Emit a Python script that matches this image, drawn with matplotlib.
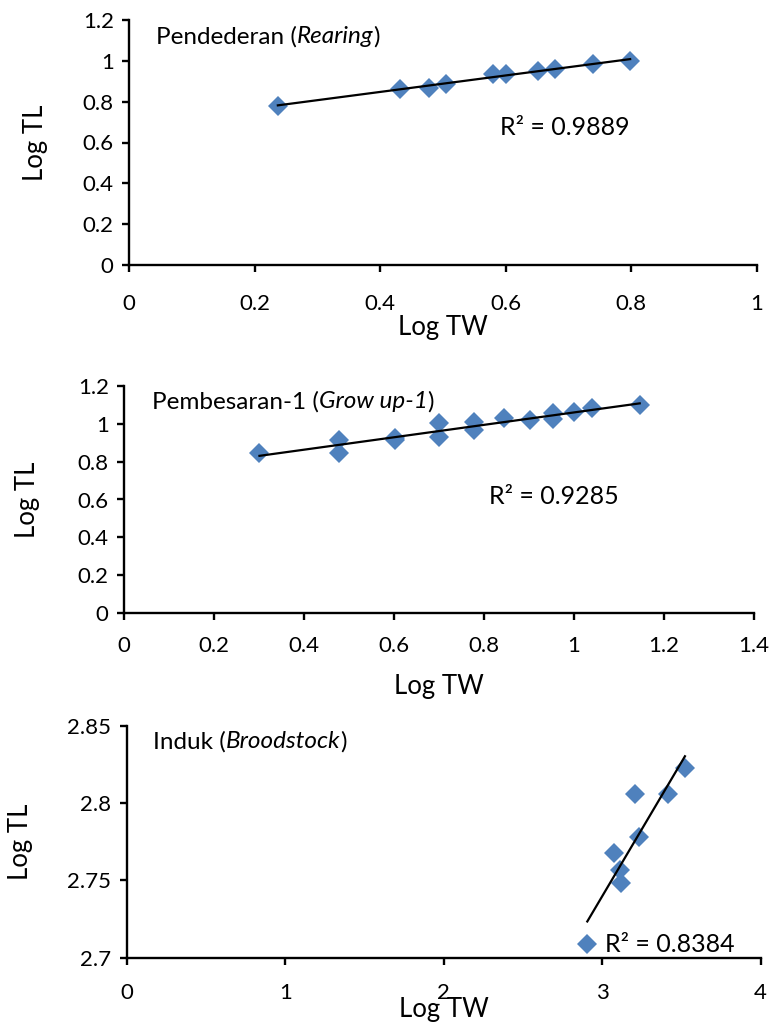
import numpy as np
import matplotlib
matplotlib.use("Agg")
import matplotlib.pyplot as plt
from matplotlib.ticker import FuncFormatter

plt.rcParams['font.family'] = ['Lato', 'DejaVu Sans']

# ---- data ----
rear_x = [0.237, 0.431, 0.477, 0.504, 0.579, 0.600, 0.652, 0.679, 0.739, 0.798]
rear_y = [0.781, 0.861, 0.869, 0.886, 0.935, 0.935, 0.948, 0.961, 0.985, 1.001]
rear_r2 = "R² = 0.9889"

grow_x = [0.301, 0.477, 0.477, 0.602, 0.602, 0.699, 0.699, 0.778, 0.778,
          0.845, 0.903, 0.954, 0.954, 1.000, 1.041, 1.146]
grow_y = [0.843, 0.914, 0.845, 0.914, 0.924, 1.002, 0.932, 1.010, 0.966,
          1.028, 1.019, 1.057, 1.023, 1.063, 1.081, 1.098]
grow_r2 = "R² = 0.9285"

brood_x = [3.522, 3.207, 3.417, 3.232, 3.076, 3.112, 3.119, 2.906]
brood_y = [2.8225, 2.806, 2.806, 2.778, 2.7675, 2.7567, 2.748, 2.709]
brood_r2 = "R² = 0.8384"

panels = [
    dict(x=rear_x, y=rear_y, r2=rear_r2, name="Pendederan (", it="Rearing",
         xlim=(0, 1), xticks=[0, 0.2, 0.4, 0.6, 0.8, 1],
         ylim=(0, 1.2), yticks=[0, 0.2, 0.4, 0.6, 0.8, 1.0, 1.2],
         rect=[129/772, 1-265/1027, 628/772, 245/1027],
         title_pos=(0.043, 0.905), r2_pos=(0.591, 0.563),
         xlab_y=-0.205, ylab_x=-0.129, xpad=16),
    dict(x=grow_x, y=grow_y, r2=grow_r2, name="Pembesaran-1 (", it="Grow up-1",
         xlim=(0, 1.4), xticks=[0, 0.2, 0.4, 0.6, 0.8, 1.0, 1.2, 1.4],
         ylim=(0, 1.2), yticks=[0, 0.2, 0.4, 0.6, 0.8, 1.0, 1.2],
         rect=[124/772, 1-613.3/1027, 630/772, 227.6/1027],
         title_pos=(0.044, 0.900), r2_pos=(0.579, 0.511),
         xlab_y=-0.265, ylab_x=-0.133, xpad=11.5),
    dict(x=brood_x, y=brood_y, r2=brood_r2, name="Induk (", it="Broodstock",
         xlim=(0, 4), xticks=[0, 1, 2, 3, 4],
         ylim=(2.7, 2.85), yticks=[2.7, 2.75, 2.8, 2.85],
         rect=[126.7/772, 1-957.7/1027, 634/772, 232/1027],
         title_pos=(0.041, 0.903), r2_pos=(0.754, 0.059),
         xlab_y=-0.17, ylab_x=-0.148, xpad=13),
]

fig = plt.figure(figsize=(7.72, 10.27), dpi=100)
FS_TICK = 16
FS_LAB = 18.5
FS_TXT = 17.5
FS_R2 = 18
blue = '#4F81BD'

def fmt(v, pos):
    return ('%.2f' % v).rstrip('0').rstrip('.')

for p in panels:
    ax = fig.add_axes(p['rect'])
    xs = np.array(p['x']); ys = np.array(p['y'])
    ax.plot(xs, ys, linestyle='none', marker='D', markersize=10,
            color=blue, markeredgewidth=0, zorder=3, clip_on=False)
    k, b = np.polyfit(xs, ys, 1)
    xx = np.array([xs.min(), xs.max()])
    ax.plot(xx, k*xx + b, color='black', lw=1.6, zorder=4, clip_on=False)
    ax.set_xlim(*p['xlim']); ax.set_ylim(*p['ylim'])
    ax.set_xticks(p['xticks']); ax.set_yticks(p['yticks'])
    ax.xaxis.set_major_formatter(FuncFormatter(fmt))
    ax.yaxis.set_major_formatter(FuncFormatter(fmt))
    for s in ['top', 'right']:
        ax.spines[s].set_visible(False)
    for s in ['left', 'bottom']:
        ax.spines[s].set_linewidth(1.7)
    ax.tick_params(axis='both', direction='out', length=5, width=1.7,
                   labelsize=FS_TICK, colors='black')
    ax.tick_params(axis='x', pad=p['xpad'])
    ax.tick_params(axis='y', pad=6)
    ax.set_xlabel("Log TW", fontsize=FS_LAB)
    ax.set_ylabel("Log TL", fontsize=FS_LAB)
    ax.xaxis.set_label_coords(0.5, p['xlab_y'])
    ax.yaxis.set_label_coords(p['ylab_x'], 0.5)
    t1 = ax.text(p['title_pos'][0], p['title_pos'][1], p['name'],
                 transform=ax.transAxes, fontsize=FS_TXT, va='baseline', ha='left')
    t2 = ax.annotate(p['it'], xy=(1, 0), xycoords=t1, va='bottom', ha='left',
                     fontsize=FS_TXT, style='italic')
    ax.annotate(")", xy=(1, 0), xycoords=t2, va='bottom', ha='left', fontsize=FS_TXT)
    ax.text(p['r2_pos'][0], p['r2_pos'][1], p['r2'], transform=ax.transAxes,
            fontsize=FS_R2, va='center', ha='left')

fig.savefig("out.png", dpi=100)
